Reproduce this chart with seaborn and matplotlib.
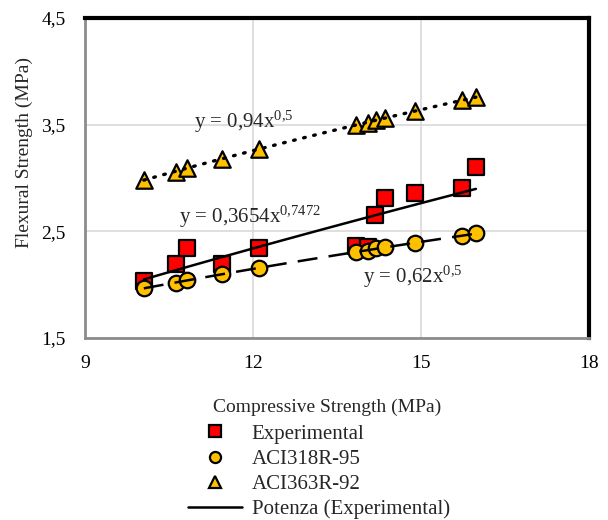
import numpy as np
import pandas as pd
import matplotlib
matplotlib.use("Agg")
import matplotlib.pyplot as plt
import seaborn as sns
from matplotlib.lines import Line2D

sns.set_style("white")
plt.rcParams['font.family'] = ['Liberation Serif', 'DejaVu Serif']
plt.rcParams['mathtext.fontset'] = 'custom'
plt.rcParams['mathtext.rm'] = 'Liberation Serif'
plt.rcParams['mathtext.it'] = 'Liberation Serif:italic'

# ---- data ----
exp_x = [10.05, 10.63, 10.82, 11.44, 12.11, 13.84, 14.05, 14.18, 14.35, 14.90, 15.73, 15.98]
exp_y = [2.03, 2.19, 2.34, 2.19, 2.34, 2.36, 2.35, 2.65, 2.81, 2.86, 2.91, 3.10]

aci_x = [10.05, 10.63, 10.82, 11.44, 12.11, 13.84, 14.05, 14.20, 14.35, 14.90, 15.73, 15.98]
aci318_y = [1.97, 2.02, 2.04, 2.10, 2.16, 2.31, 2.32, 2.34, 2.35, 2.39, 2.46, 2.48]
aci363_y = [2.98, 3.06, 3.09, 3.18, 3.27, 3.50, 3.52, 3.54, 3.56, 3.63, 3.73, 3.76]

# power trendlines y = a * x^b (as labelled on the chart)
trend_exp = (0.3654, 0.7472)
trend_318 = (0.62, 0.5)
trend_363 = (0.94, 0.5)

x_ticks = [9, 12, 15, 18]
y_ticks = [1.5, 2.5, 3.5, 4.5]
y_tick_labels = ["1,5", "2,5", "3,5", "4,5"]
x_tick_labels = ["9", "12", "15", "18"]

RED = "#FF0000"
GOLD = "#FFC000"

fig = plt.figure(figsize=(6.08, 5.20), dpi=100)
ax = fig.add_axes([85/608, 1-338/520, (589-85)/608, (338-18)/520])

df_exp = pd.DataFrame({"x": exp_x, "y": exp_y})
df_318 = pd.DataFrame({"x": aci_x, "y": aci318_y})
df_363 = pd.DataFrame({"x": aci_x, "y": aci363_y})

sns.scatterplot(data=df_exp, x="x", y="y", ax=ax, marker="s", s=130, color=RED,
                edgecolor="black", linewidth=1.6, zorder=3)
sns.scatterplot(data=df_318, x="x", y="y", ax=ax, marker="o", s=125, color=GOLD,
                edgecolor="black", linewidth=1.6, zorder=4)
sns.scatterplot(data=df_363, x="x", y="y", ax=ax, marker="^", s=140, color=GOLD,
                edgecolor="black", linewidth=1.6, zorder=5)

def trend(xs, ab):
    xs = np.linspace(min(xs), max(xs), 100)
    return pd.DataFrame({"x": xs, "y": ab[0] * xs ** ab[1]})

t363 = trend(aci_x, trend_363)
t318 = trend(aci_x, trend_318)
texp = trend(exp_x, trend_exp)
sns.lineplot(data=t363, x="x", y="y", ax=ax, color="black", lw=2.4, zorder=6)
ax.lines[-1].set_linestyle((0, (0.5, 2.6)))
ax.lines[-1].set_dash_capstyle("round")
sns.lineplot(data=t318, x="x", y="y", ax=ax, color="black", lw=1.8, zorder=6)
ax.lines[-1].set_linestyle((0, (8, 4.5)))
sns.lineplot(data=texp, x="x", y="y", ax=ax, color="black", lw=1.8, zorder=6)

ax.set_xlim(9, 18)
ax.set_ylim(1.5, 4.5)
ax.set_xticks(x_ticks)
ax.set_xticklabels(x_tick_labels)
ax.set_yticks(y_ticks)
ax.set_yticklabels(y_tick_labels)
ax.grid(True, color="#D9D9D9", lw=1.2)
ax.set_axisbelow(True)
ax.tick_params(axis="both", which="both", length=3, width=1.2, color="#A6A6A6",
               labelsize=14, labelcolor="black", direction="out")
ax.tick_params(axis="x", pad=9)
ax.tick_params(axis="y", pad=11)

for side in ["left", "bottom"]:
    ax.spines[side].set_color("#8C8C8C")
    ax.spines[side].set_linewidth(2.0)
for side in ["top", "right"]:
    ax.spines[side].set_color("black")
    ax.spines[side].set_linewidth(3.0)

ax.set_xlabel("Compressive Strength (MPa)", fontsize=14)
ax.set_ylabel("Flexural Strength (MPa)", fontsize=14)
ax.xaxis.set_label_coords(0.48, -0.19)
ax.yaxis.set_label_coords(-0.103, 0.58)

ax.text(10.95, 3.53, r"y = 0,94x$^{\mathrm{0{,}5}}$", fontsize=15, va="center", ha="left", zorder=7)
ax.text(10.68, 2.64, r"y = 0,3654x$^{\mathrm{0{,}7472}}$", fontsize=15, va="center", ha="left", zorder=7)
ax.text(13.97, 2.07, r"y = 0,62x$^{\mathrm{0{,}5}}$", fontsize=15, va="center", ha="left", zorder=7)

handles = [
    Line2D([], [], ls="none", marker="s", ms=8, mfc=RED, mec="black", mew=1.6),
    Line2D([], [], ls="none", marker="o", ms=8, mfc=GOLD, mec="black", mew=1.6),
    Line2D([], [], ls="none", marker="^", ms=8, mfc=GOLD, mec="black", mew=1.6),
    Line2D([], [], color="black", lw=1.8),
]
labels = ["Experimental", "ACI318R-95", "ACI363R-92", "Potenza (Experimental)"]
fig.legend(handles, labels, loc="upper left", bbox_to_anchor=(188/608, 1-424/520),
           frameon=False, fontsize=15, handlelength=2.6, handletextpad=0.45,
           labelspacing=0.27, borderpad=0, borderaxespad=0)

fig.savefig("out.png", dpi=100)
